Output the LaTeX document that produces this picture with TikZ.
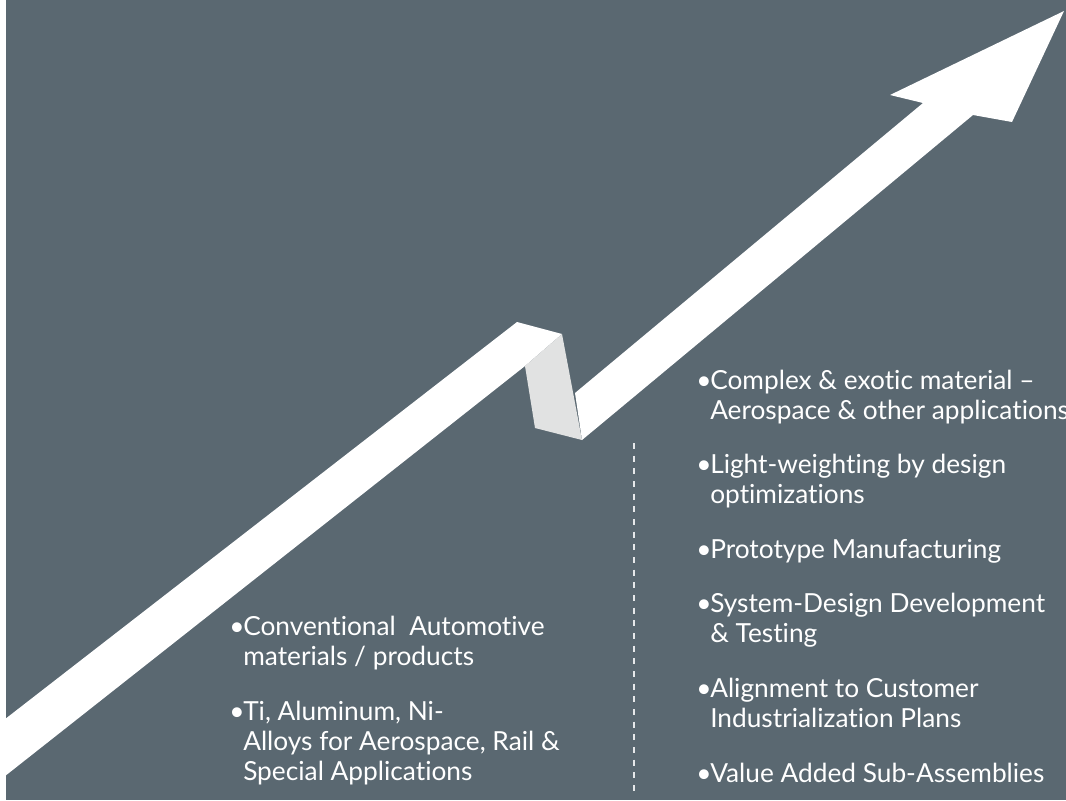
\documentclass[tikz,border=0pt]{standalone}
\usepackage{fontspec}
\setmainfont{Lato}[Ligatures={NoCommon,NoRare}]
\usepackage{xcolor}
\usepackage{tikz}

\definecolor{slate}{HTML}{5A6871}
\definecolor{foldgray}{HTML}{E1E2E2}

\newcommand{\bul}{\makebox[10.5pt][l]{\textbullet}}
\newcommand{\ind}{\hspace*{10.5pt}}

\begin{document}
\begin{tikzpicture}[x=0.75pt, y=-0.75pt,
  point/.style={anchor=north west, inner sep=0pt, text=white, align=left,
    font=\fontsize{19.7}{22.5}\selectfont}]

\useasboundingbox (0,0) rectangle (1066,800);
\clip (0,0) rectangle (1066,800);
\fill[white] (0,0) rectangle (1066,800);
\fill[slate] (6,0) rectangle (1066,800);

% rising arrow with the fold
\fill[white] (0,723) -- (517,322) -- (562,334) -- (525,366) -- (0,780) -- cycle;
\fill[foldgray] (525,366) -- (562,334) -- (582,440) -- (535,428) -- cycle;
\fill[white] (575,393) -- (923,103) -- (890,95) -- (1064,11) -- (1012,122) -- (973,115) -- (582,440) -- cycle;

% divider
\coordinate (divtop) at (634,443);
\coordinate (divbot) at (634,796);
\draw[white!85!slate, line width=2pt, dash pattern=on 4.5pt off 5pt] (divtop) -- (divbot);

% left column
\node[point] (conv) at (229,616) {\bul Conventional\ \ Automotive\\\ind materials / products};
\node[point] (alloys) at (229,701) {\bul Ti, Aluminum, Ni-\\\ind Alloys for Aerospace, Rail \&\\\ind Special Applications};

% right column
\node[point] (complex) at (696,370) {\bul Complex \& exotic material –\\\ind Aerospace \& other applications};
\node[point] (light) at (696,454) {\bul Light-weighting by design\\\ind optimizations};
\node[point] (proto) at (696,539) {\bul Prototype Manufacturing};
\node[point] (sysdesign) at (696,593) {\bul System-Design Development\\\ind \& Testing};
\node[point] (custplan) at (696,678) {\bul Alignment to Customer\\\ind Industrialization Plans};
\node[point] (value) at (696,763) {\bul Value Added Sub-Assemblies};

\end{tikzpicture}
\end{document}
